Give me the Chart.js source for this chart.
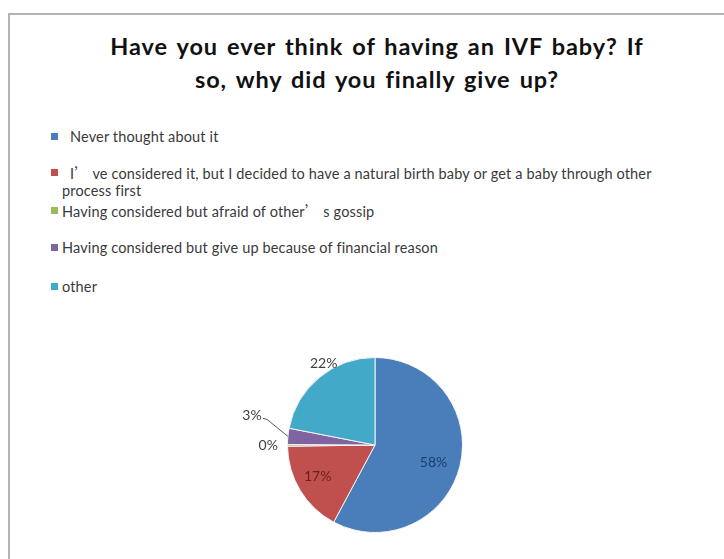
<!DOCTYPE html>
<html>
<head>
<meta charset="utf-8">
<script src="https://cdn.jsdelivr.net/npm/chart.js@4"></script>
<style>
  html, body { margin: 0; padding: 0; background: #fff; }
  #page { position: relative; width: 724px; height: 559px; overflow: hidden; }
  #frame { position: absolute; left: 8px; top: 13px; width: 740px; height: 560px;
    border-top: 2px solid #b4b4b4; border-left: 2px solid #b4b4b4; }
  #pie { position: absolute; left: 0; top: 0; }
  #title { position: absolute; left: 40px; width: 674px; top: 30px; text-align: center;
    font-family: Lato, sans-serif; font-weight: bold; font-size: 23.5px; line-height: 33px;
    letter-spacing: 0.9px; word-spacing: 2.5px; color: #111; }
  #legend { position: absolute; left: 0; top: 128px; width: 700px;
    font-family: Lato, sans-serif; font-size: 14.5px; color: #3a3a3a; letter-spacing: 0.15px; }
  .item { position: absolute; line-height: 17px; }
  .item i { position: absolute; top: 5px; width: 7px; height: 7px; }
  .cjk { font-family: "Noto Sans CJK SC", sans-serif; }
</style>
</head>
<body>
<div id="page">
  <div id="frame"></div>
  <div id="title">Have you ever think of having an IVF baby? If<br>so, why did you finally give up?</div>
  <div id="legend"></div>
  <canvas id="pie" width="724" height="559"></canvas>
</div>
<script>
const categories = [
  "Never thought about it",
  "I’ ve considered it, but I decided to have a natural birth baby or get a baby through other process first",
  "Having considered but afraid of other’ s gossip",
  "Having considered but give up because of financial reason",
  "other"
];
const shares = [58, 17, 0.3, 3, 22];
const sliceColors = ["#4a7ebb", "#c0504d", "#9bbb59", "#8064a2", "#43a9c8"];
const labelColors = ["#1f3d6b", "#6b1f1f", "#404040", "#404040", "#404040"];

// legend rows: top offset, text x (square sits at x 51)
const legendRows = [
  { top: 0, tx: 70 },
  { top: 36, tx: 62, indent: 8 },
  { top: 74, tx: 62 },
  { top: 111, tx: 62 },
  { top: 150, tx: 62 }
];
const legendBox = document.getElementById("legend");
categories.forEach((c, i) => {
  const row = legendRows[i];
  const d = document.createElement("div");
  d.className = "item";
  d.style.top = row.top + "px";
  d.style.left = row.tx + "px";
  d.style.width = (i === 1 ? 600 : 640) + "px";
  if (row.indent) d.style.textIndent = row.indent + "px";
  const sq = document.createElement("i");
  sq.style.background = sliceColors[i];
  sq.style.left = (51 - row.tx) + "px";
  d.appendChild(sq);
  c.split("’").forEach((part, k) => {
    if (k > 0) {
      const s = document.createElement("span");
      s.className = "cjk";
      s.textContent = "’";
      d.appendChild(s);
    }
    d.appendChild(document.createTextNode(part));
  });
  legendBox.appendChild(d);
});

// where each percentage label goes: fraction of radius along the slice middle, plus a nudge
const labelPos = [
  { r: 0.69, dx: 0, dy: 3 },
  { r: 0.74, dx: -2, dy: -2 },
  { r: 1.22, dx: 0, dy: 0 },
  { r: 1.0, dx: -36, dy: -21, leader: true },
  { r: 1.12, dx: 11, dy: -6 }
];

const pctLabels = {
  id: "pctLabels",
  afterDatasetsDraw(chart) {
    const ctx = chart.ctx;
    const meta = chart.getDatasetMeta(0);
    const total = shares.reduce((a, b) => a + b, 0);
    ctx.save();
    ctx.font = "14px Lato, sans-serif";
    ctx.textAlign = "center";
    ctx.textBaseline = "middle";
    meta.data.forEach((arc, i) => {
      const mid = (arc.startAngle + arc.endAngle) / 2;
      const p = labelPos[i];
      const ex = arc.x + Math.cos(mid) * arc.outerRadius * p.r;
      const ey = arc.y + Math.sin(mid) * arc.outerRadius * p.r;
      const lx = ex + p.dx, ly = ey + p.dy;
      if (p.leader) {
        ctx.strokeStyle = "#555";
        ctx.lineWidth = 1;
        ctx.beginPath();
        ctx.moveTo(lx + 11, ly + 3);
        ctx.lineTo(lx + 15, ly + 4);
        ctx.lineTo(ex, ey);
        ctx.stroke();
      }
      ctx.fillStyle = labelColors[i];
      ctx.fillText(Math.round(shares[i] / total * 100) + "%", lx, ly);
    });
    ctx.restore();
  }
};

new Chart(document.getElementById("pie"), {
  type: "pie",
  data: {
    labels: categories,
    datasets: [{
      data: shares,
      backgroundColor: sliceColors,
      borderColor: "#f4f4f4",
      borderWidth: 1
    }]
  },
  options: {
    responsive: false,
    animation: false,
    layout: { padding: { left: 287, top: 357, right: 261, bottom: 26 } },
    plugins: {
      legend: { display: false },
      tooltip: { enabled: false }
    }
  },
  plugins: [pctLabels]
});
</script>
</body>
</html>
